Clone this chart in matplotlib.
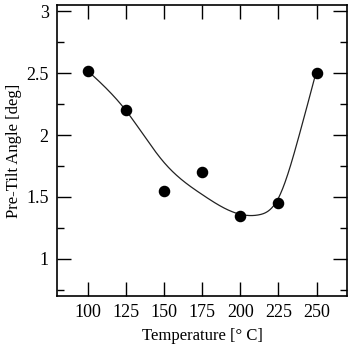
import numpy as np
import matplotlib
matplotlib.use("Agg")
import matplotlib.pyplot as plt

# measured points
temperatura = [100, 125, 150, 175, 200, 225, 250]
angulo = [2.52, 2.20, 1.55, 1.70, 1.35, 1.45, 2.50]

# knots of the fitted curve
curva_x = [100, 125, 150, 175, 200, 212, 225, 238, 250]
curva_y = [2.52, 2.20, 1.78, 1.52, 1.36, 1.355, 1.49, 1.97, 2.52]

x_ticks = [100, 125, 150, 175, 200, 225, 250]
y_ticks = [1, 1.5, 2, 2.5, 3]


def spline_natural(x, y, xs):
    """Natural cubic spline through the knots (x, y), evaluated at xs."""
    x = np.asarray(x, float)
    y = np.asarray(y, float)
    n = len(x)
    h = np.diff(x)
    A = np.zeros((n, n))
    b = np.zeros(n)
    A[0, 0] = A[-1, -1] = 1
    for i in range(1, n - 1):
        A[i, i - 1] = h[i - 1]
        A[i, i] = 2 * (h[i - 1] + h[i])
        A[i, i + 1] = h[i]
        b[i] = 6 * ((y[i + 1] - y[i]) / h[i] - (y[i] - y[i - 1]) / h[i - 1])
    M = np.linalg.solve(A, b)
    idx = np.clip(np.searchsorted(x, xs) - 1, 0, n - 2)
    x0, x1 = x[idx], x[idx + 1]
    hh = x1 - x0
    t0, t1 = x1 - xs, xs - x0
    return (M[idx] * t0**3 / (6 * hh) + M[idx + 1] * t1**3 / (6 * hh)
            + (y[idx] / hh - M[idx] * hh / 6) * t0
            + (y[idx + 1] / hh - M[idx + 1] * hh / 6) * t1)


plt.rcParams['font.family'] = ['Liberation Serif', 'DejaVu Serif']

fig = plt.figure(figsize=(3.52, 3.46), dpi=100)
ax = fig.add_axes([0.162, 0.1445, 0.824, 0.841])

xs = np.linspace(curva_x[0], curva_x[-1], 400)
ax.plot(xs, spline_natural(curva_x, curva_y, xs), color="#222222", linewidth=0.9)
ax.plot(temperatura, angulo, "o", color="black", markersize=7.3, zorder=3)

ax.set_xlim(80, 270)
ax.set_ylim(0.7, 3.05)
ax.set_xticks(x_ticks)
ax.set_yticks(y_ticks)
ax.set_yticks(np.arange(0.75, 3.05, 0.25), minor=True)
ax.set_yticklabels([f"{v:g}" for v in y_ticks])

ax.tick_params(which="both", direction="in", top=True, right=True, width=1.0, labelsize=13)
ax.tick_params(which="major", length=10, pad=6)
ax.tick_params(which="minor", length=5)
for s in ax.spines.values():
    s.set_linewidth(1.2)

ax.set_xlabel("Temperature [° C]", fontsize=12, labelpad=5)
ax.set_ylabel("Pre-Tilt Angle [deg]", fontsize=12, labelpad=3)

fig.savefig("out.png", dpi=100)
